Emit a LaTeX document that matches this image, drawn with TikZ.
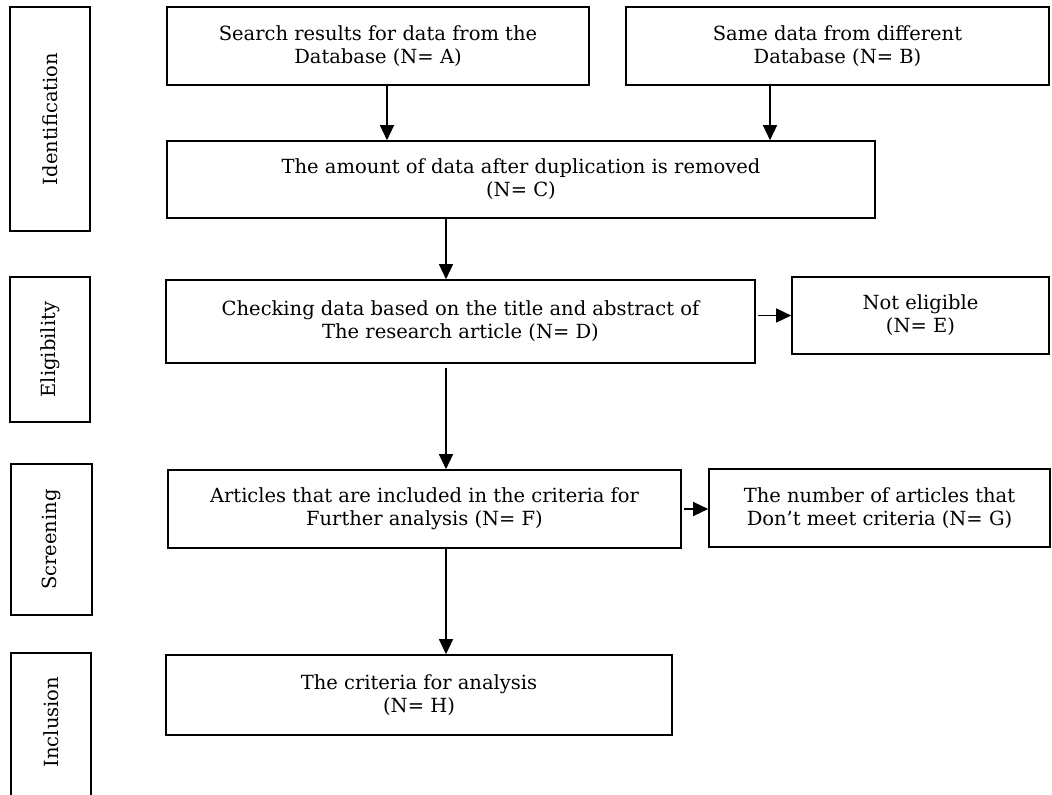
\documentclass[tikz,border=0pt]{standalone}
\usepackage{fontspec}
\setmainfont{DejaVu Serif}
\usepackage{tikz}
\usetikzlibrary{arrows.meta,positioning,calc}
\tikzset{
  flowbox/.style={draw,line width=1.6pt,align=center,inner sep=2pt,
    font=\fontsize{19.5}{23}\selectfont},
  stagebox/.style={draw,line width=1.6pt,rotate=90,align=center,
    font=\fontsize{19.5}{23}\selectfont},
  arr/.style={-{Triangle[length=15pt,width=14pt]},line width=1.3pt}
}

\begin{document}
\begin{tikzpicture}[x=1pt,y=-1pt]
  \useasboundingbox (0,0) rectangle (1052,795);
  % Stage labels
  \node[stagebox,minimum width=224pt,minimum height=80pt] (ident) at (50,119) {Identification};
  \node[stagebox,minimum width=145pt,minimum height=80pt] (elig) at (50,349.5) {Eligibility};
  \node[stagebox,minimum width=151pt,minimum height=81pt] (screen) at (51.5,539.5) {Screening};
  \node[stagebox,draw=none] (incl) at (51,722) {Inclusion};
  \draw[line width=1.6pt] (11,800) -- (11,653) -- (91,653) -- (91,800);
  % Identification
  \node[flowbox,minimum width=422pt,minimum height=78pt] (srcA) at (378,46)
    {Search results for data from the\\Database (N= A)};
  \node[flowbox,minimum width=423pt,minimum height=78pt] (srcB) at (837.5,46)
    {Same data from different\\Database (N= B)};
  \node[flowbox,minimum width=708pt,minimum height=77pt] (dedup) at (521,179.5)
    {The amount of data after duplication is removed\\(N= C)};
  % Eligibility
  \node[flowbox,minimum width=589pt,minimum height=83pt] (check) at (460.5,321.5)
    {Checking data based on the title and abstract of\\The research article (N= D)};
  \node[flowbox,minimum width=257pt,minimum height=77pt] (noteli) at (920.5,315.5)
    {Not eligible\\(N= E)};
  % Screening
  \node[flowbox,minimum width=513pt,minimum height=78pt] (incart) at (424.5,509)
    {Articles that are included in the criteria for\\Further analysis (N= F)};
  \node[flowbox,minimum width=341pt,minimum height=78pt] (excart) at (879.5,508)
    {The number of articles that\\Don’t meet criteria (N= G)};
  % Inclusion
  \node[flowbox,minimum width=506pt,minimum height=80pt] (final) at (419,695)
    {The criteria for analysis\\(N= H)};
  % Arrows
  \coordinate (outA) at ($(srcA.south)+(9,0)$);
  \coordinate (outB) at ($(srcB.south)+(-67.5,0)$);
  \coordinate (inD) at ($(check.north)+(-14.5,0)$);
  \coordinate (outD) at ($(check.south)+(-14.5,0)$);
  \coordinate (inH) at ($(final.north)+(27,0)$);
  \draw[arr] (outA) -- (outA |- dedup.north);
  \draw[arr] (outB) -- (outB |- dedup.north);
  \draw[arr] (inD |- dedup.south) -- (inD);
  \draw[arr,shorten <=4pt] (outD) -- (outD |- incart.north);
  \draw[arr] (inH |- incart.south) -- (inH);
  \draw[arr,shorten <=2pt] (check.east |- noteli.west) -- (noteli.west);
  \draw[arr,shorten <=2pt] (incart.east) -- (incart.east -| excart.west);
\end{tikzpicture}
\end{document}
